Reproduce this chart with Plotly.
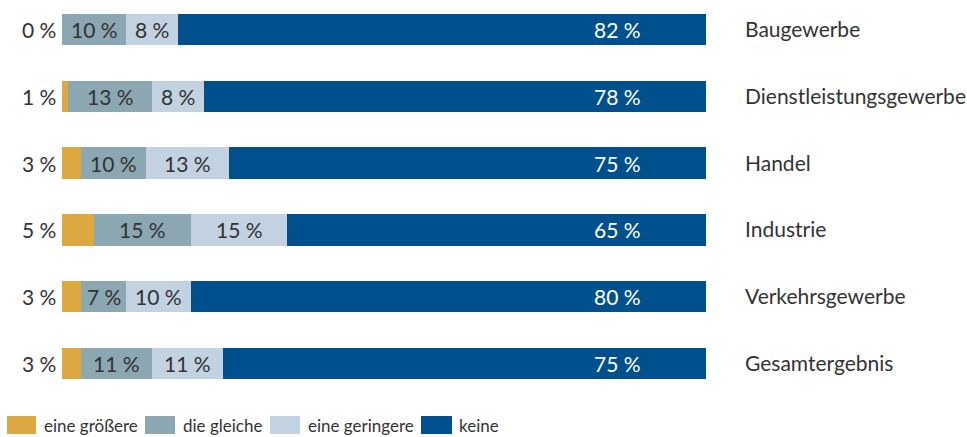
import plotly.graph_objects as go

categories = ["Baugewerbe", "Dienstleistungsgewerbe", "Handel", "Industrie", "Verkehrsgewerbe", "Gesamtergebnis"]
groesser = [0, 1, 3, 5, 3, 3]
gleich = [10, 13, 10, 15, 7, 11]
geringer = [8, 8, 13, 15, 10, 11]
keine = [82, 78, 75, 65, 80, 75]
series_names = ["eine größere", "die gleiche", "eine geringere", "keine"]
colors = ["#DDA840", "#8BA7B2", "#C2D2E1", "#00508E"]

FONT = "Lato"
FS = 21
FS_LEG = 17
TXT = "#333333"

W, H = 967, 437
ML, MR, MT, MB = 62, 261, 0, 37
PW = W - ML - MR
PH = H - MT - MB

series = [groesser, gleich, geringer, keine]
yidx = list(range(len(categories)))

fig = go.Figure()
for name, vals, col in zip(series_names, series, colors):
    fig.add_trace(go.Bar(
        y=yidx, x=vals, name=name, orientation="h",
        marker=dict(color=col, line=dict(width=0)),
        width=0.47, showlegend=False, hoverinfo="skip",
    ))

ann = []
for i, cat in enumerate(categories):
    ann.append(dict(x=0, y=i, xref="x", yref="y", text=f"{groesser[i]} %",
                    xanchor="right", xshift=-4, showarrow=False,
                    font=dict(family=FONT, size=FS, color=TXT)))
    start = groesser[i]
    for vals in (gleich, geringer):
        v = vals[i]
        ann.append(dict(x=start + v / 2, y=i, xref="x", yref="y", text=f"{v} %",
                        xanchor="center", showarrow=False,
                        font=dict(family=FONT, size=FS, color=TXT)))
        start += v
    ann.append(dict(x=86.3, y=i, xref="x", yref="y", text=f"{keine[i]} %",
                    xanchor="center", showarrow=False,
                    font=dict(family=FONT, size=FS, color="white")))
    ann.append(dict(x=1, y=i, xref="paper", yref="y", text=cat,
                    xanchor="left", xshift=37, yshift=1, showarrow=False,
                    font=dict(family=FONT, size=FS, color=TXT)))

shapes = []
leg_rect_x = [(7, 36), (145, 175), (270, 300), (421, 452)]
leg_text_x = [42, 181, 306, 457]
def px(x):
    return (x - ML) / PW
def py(y):
    return (MT + PH - y) / PH
for name, col, (x0, x1), tx in zip(series_names, colors, leg_rect_x, leg_text_x):
    shapes.append(dict(type="rect", xref="paper", yref="paper",
                       x0=px(x0), x1=px(x1), y0=py(434), y1=py(416),
                       fillcolor=col, line=dict(width=0)))
    ann.append(dict(x=px(tx), y=py(425), xref="paper", yref="paper", text=name,
                    xanchor="left", yanchor="middle", showarrow=False,
                    font=dict(family=FONT, size=FS_LEG, color=TXT)))

y_top = -29.5 / 66.8
y_bot = (PH - 29.5) / 66.8

fig.update_layout(
    width=W, height=H,
    margin=dict(l=ML, r=MR, t=MT, b=MB),
    barmode="stack",
    paper_bgcolor="white", plot_bgcolor="white",
    xaxis=dict(range=[0, 100], visible=False, fixedrange=True),
    yaxis=dict(range=[y_bot, y_top], visible=False, fixedrange=True),
    annotations=ann, shapes=shapes,
    font=dict(family=FONT, size=FS, color=TXT),
)

fig.write_html("out.html", config={"displayModeBar": False},
               post_script="document.body.style.margin='0';document.body.style.overflow='hidden';")
